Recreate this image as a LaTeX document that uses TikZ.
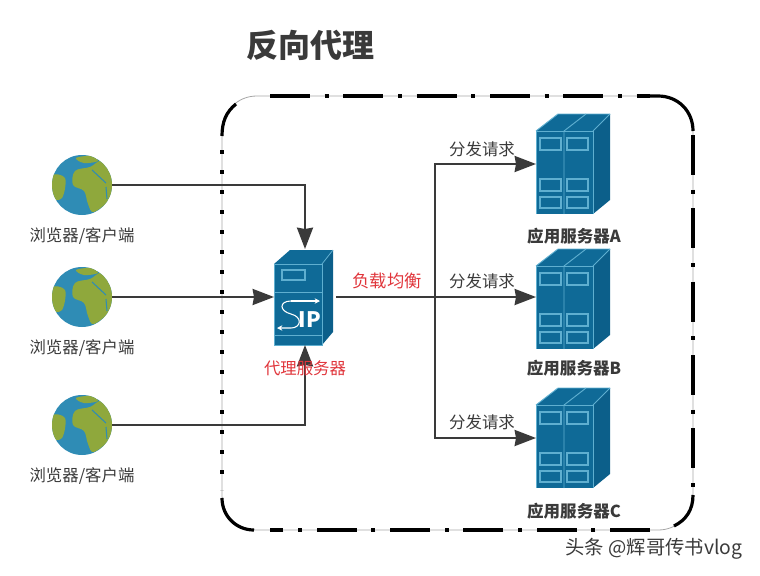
\documentclass[tikz,border=0pt]{standalone}
\usepackage{fontspec}
\setmainfont{Noto Sans CJK SC}
\usetikzlibrary{arrows.meta}

\definecolor{inkgray}{HTML}{3A3A3A}
\definecolor{labelred}{HTML}{E0353B}
\definecolor{rackblue}{HTML}{0F6A97}
\definecolor{rackdark}{HTML}{0C5F8A}
\definecolor{racklight}{HTML}{5FAFD0}
\definecolor{oceanblue}{HTML}{2F8CB5}
\definecolor{landgreen}{HTML}{8FA83C}

\tikzset{
	link/.style={draw=inkgray, line width=1.7pt, -{Stealth[length=16pt, width=12pt, inset=1pt]}},
	trunk/.style={draw=inkgray, line width=1.7pt},
	anchorbox/.style={inner sep=0pt, outer sep=0pt},
	graylabel/.style={text=inkgray, font=\fontsize{12.3}{14}\selectfont, inner sep=0pt},
	redlabel/.style={text=labelred, font=\fontsize{12.3}{14}\selectfont, inner sep=0pt},
	slot/.style={draw=racklight, line width=1.1pt},
	globe/.pic={
		\fill[oceanblue] (0,0) circle (30);
		\begin{scope}
			\clip (0,0) circle (30);
			\fill[landgreen] plot[smooth cycle, tension=0.6] coordinates {(-7,-14) (8,-18) (20,-24) (31,-8) (29,12) (12,27) (6,19) (2,6) (-9,0)};
			\fill[landgreen] plot[smooth cycle, tension=0.6] coordinates {(-31,-9) (-17,-7) (-20,13) (-31,12)};
			\fill[landgreen] plot[smooth cycle, tension=0.6] coordinates {(-6,-27) (8,-29) (16,-24) (2,-22)};
			\draw[oceanblue, line width=0.8pt] (10,-15) -- (24,-2);
			\draw[oceanblue, line width=0.8pt] (24,2) -- (25,14);
		\end{scope}
	},
	rack/.pic={
		\fill[rackblue] (-37,-33) -- (-15,-50) -- (37,-50) -- (20,-33) -- cycle;
		\fill[rackdark] (20,-33) -- (37,-50) -- (37,36) -- (20,50) -- cycle;
		\fill[rackblue] (-37,-33) rectangle (20,50);
		\draw[racklight, line width=0.7pt] (-37,50) -- (-37,-33) -- (20,-33) -- (20,50);
		\draw[racklight, line width=0.7pt] (-37,-33) -- (-15,-50) -- (37,-50);
		\draw[racklight, line width=0.7pt] (20,-33) -- (37,-50);
		\draw[racklight, line width=0.7pt] (-9,50) -- (-9,-33) -- (13,-50);
		\foreach \slotx in {-33,-6} {
			\draw[slot] (\slotx,-26) rectangle ++(21,12);
			\draw[slot] (\slotx,15) rectangle ++(21,12);
			\draw[slot] (\slotx,33) rectangle ++(21,11);
		}
	},
	proxybox/.pic={
		\fill[rackblue] (-31,-33) -- (-15,-47) -- (28,-47) -- (17,-33) -- cycle;
		\fill[rackdark] (17,-33) -- (28,-47) -- (28,35) -- (17,48) -- cycle;
		\fill[rackblue] (-31,-33) rectangle (17,48);
		\draw[racklight, line width=0.6pt] (-31,48) -- (-31,-33) -- (17,-33) -- (17,48) -- cycle;
		\draw[racklight, line width=0.6pt] (17,-33) -- (28,-47);
		\draw[racklight, line width=0.6pt] (-31,-5) -- (17,-5);
		\draw[racklight, line width=0.6pt] (-31,38) -- (17,38);
		\draw[slot] (-23,-27) rectangle (0,-17);
		\draw[white, line width=0.8pt, -{Stealth[length=4pt, width=4pt]}] (-14,4) .. controls (-26,4) and (-26,14) .. (-14,17) .. controls (-2,20) and (-4,31) .. (-14,31) -- (-28,31);
		\draw[white, line width=0.8pt, -{Stealth[length=4pt, width=4pt]}] (-14,4) -- (15,4);
		\node (iptext) at (5,23) [anchorbox, text=white, font=\fontsize{16}{16}\selectfont\bfseries] {IP};
	},
}

\begin{document}
\begin{tikzpicture}[x=0.75pt, y=-0.75pt]
	\useasboundingbox (0,0) rectangle (760,575);

	\node (title) at (310,45) [anchorbox, text=inkgray, font=\fontsize{24}{26}\selectfont\bfseries] {反向代理};

	% dashed frame
	\draw[gray!70, line width=0.6pt, rounded corners=26pt] (222,96) rectangle (693,530);
	\draw[black, line width=2.4pt, dash pattern=on 30pt off 11pt on 3pt off 11pt] (270,96) -- (650,96);
	\draw[black, line width=2.4pt, dash pattern=on 30pt off 11pt on 3pt off 11pt] (693,135) -- (693,490);
	\draw[black, line width=2.4pt, dash pattern=on 30pt off 11pt on 3pt off 11pt] (650,530) -- (270,530);
	\draw[black, line width=2.4pt, dash pattern=on 3pt off 12pt] (222,150) -- (222,490);
	\draw[black, line width=2.4pt] (222,136) .. controls (222,122) and (226,112) .. (236,104);
	\draw[black, line width=2.4pt] (650,96) -- (658,96) .. controls (678,96) and (693,111) .. (693,131);
	\draw[black, line width=2.4pt] (693,495) .. controls (693,510) and (686,520) .. (674,526);
	\draw[black, line width=2.4pt] (222,498) .. controls (222,516) and (236,530) .. (254,530);

	\node (client1) at (82,185) [anchorbox, circle, minimum size=45pt] {};
	\node (client2) at (82,297) [anchorbox, circle, minimum size=45pt] {};
	\node (client3) at (82,425) [anchorbox, circle, minimum size=45pt] {};
	\pic at (client1) {globe};
	\pic at (client2) {globe};
	\pic at (client3) {globe};
	\node (label1) at (82,236) [graylabel] {浏览器/客户端};
	\node (label2) at (82,348) [graylabel] {浏览器/客户端};
	\node (label3) at (82,476) [graylabel] {浏览器/客户端};

	\node (proxy) at (305,297) [anchorbox, minimum width=46.5pt, minimum height=72pt] {};
	\pic at (proxy) {proxybox};
	\node (srva) at (573,164) [anchorbox, minimum width=55.5pt, minimum height=75pt] {};
	\node (srvb) at (573,299) [anchorbox, minimum width=55.5pt, minimum height=75pt] {};
	\node (srvc) at (573,438) [anchorbox, minimum width=55.5pt, minimum height=75pt] {};
	\pic at (srva) {rack};
	\pic at (srvb) {rack};
	\pic at (srvc) {rack};
	\coordinate (hub) at (435,297);

	\draw[link] (client1.east) -| (proxy.north);
	\draw[link] (client2.east) -- (proxy.west);
	\draw[link] (client3.east) -| (proxy.south);

	\draw[trunk] (proxy.east) -- (hub);
	\draw[link] (hub) |- (srva.west);
	\draw[link] (hub) -- (hub -| srvb.west);
	\draw[link] (hub) |- (srvc.west);

	\node (proxylabel) at (305,368) [redlabel] {代理服务器};
	\node (balance) at (387,281) [redlabel, font=\fontsize{13}{14}\selectfont] {负载均衡};
	\node (send1) at (482,149) [graylabel] {分发请求};
	\node (send2) at (482,281) [graylabel] {分发请求};
	\node (send3) at (482,422) [graylabel] {分发请求};
	\node (srvalabel) at (574,236) [graylabel, font=\fontsize{12.4}{14}\selectfont\bfseries] {应用服务器A};
	\node (srvblabel) at (574,368) [graylabel, font=\fontsize{12.4}{14}\selectfont\bfseries] {应用服务器B};
	\node (srvclabel) at (574,511) [graylabel, font=\fontsize{12.4}{14}\selectfont\bfseries] {应用服务器C};

	\node (mark) at (654,549) [anchorbox, text=inkgray, font=\fontsize{14.5}{16}\selectfont] {头条 @辉哥传书vlog};
\end{tikzpicture}
\end{document}
